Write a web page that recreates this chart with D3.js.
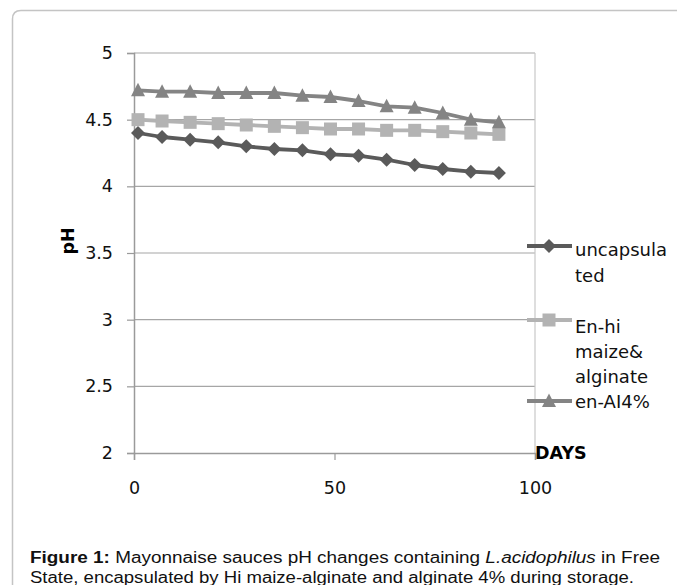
<!DOCTYPE html>
<html><head><meta charset="utf-8">
<script src="https://cdn.jsdelivr.net/npm/d3@7"></script>
<style>body{margin:0;background:#fff}svg{display:block}</style>
</head><body>
<svg id="c" width="677" height="585"></svg>
<script>
const days = [1, 7, 14, 21, 28, 35, 42, 49, 56, 63, 70, 77, 84, 91];
const uncapsulated = [4.40, 4.37, 4.35, 4.33, 4.30, 4.28, 4.27, 4.24, 4.23, 4.20, 4.16, 4.13, 4.11, 4.10];
const enHiMaize = [4.50, 4.49, 4.48, 4.47, 4.46, 4.45, 4.44, 4.43, 4.43, 4.42, 4.42, 4.41, 4.40, 4.39];
const enAl4 = [4.72, 4.71, 4.71, 4.70, 4.70, 4.70, 4.68, 4.67, 4.64, 4.60, 4.59, 4.55, 4.50, 4.48];
const yTicks = [2, 2.5, 3, 3.5, 4, 4.5, 5];
const xTicks = [0, 50, 100];
const seriesNames = [["uncapsula", "ted"], ["En-hi", "maize&", "alginate"], ["en-AI4%"]];

const svg = d3.select("#c");
const x = d3.scaleLinear().domain([0, 100]).range([134, 535]);
const y = d3.scaleLinear().domain([2, 5]).range([453, 53]);
const font = "'DejaVu Sans', Verdana, sans-serif";

// outer frame
svg.append("path")
  .attr("d", "M12.5,600 L12.5,19 Q12.5,10.5 21,10.5 L700,10.5")
  .attr("fill", "none").attr("stroke", "#c4c4c4").attr("stroke-width", 1.5);

// gridlines
svg.append("g").selectAll("line").data(yTicks.filter(d => d > 2)).join("line")
  .attr("x1", x(0)).attr("x2", x(100)).attr("y1", d => y(d)).attr("y2", d => y(d))
  .attr("stroke", "#a6a6a6").attr("stroke-width", 1.2);
svg.append("line").attr("x1", x(100)).attr("x2", x(100)).attr("y1", y(5)).attr("y2", y(2))
  .attr("stroke", "#c8c8c8").attr("stroke-width", 1.2);

// y axis
const yAxis = svg.append("g").attr("transform", `translate(${x(0)},0)`)
  .call(d3.axisLeft(y).tickValues(yTicks).tickSize(7).tickPadding(14).tickFormat(d3.format("")));
yAxis.select(".domain").attr("stroke", "#9a9a9a").attr("stroke-width", 1.5);
yAxis.selectAll(".tick line").attr("stroke", "#9a9a9a").attr("stroke-width", 1.2);
yAxis.selectAll("text").attr("font-family", font).attr("font-size", 17.5).attr("fill", "#111");

// x axis
const xAxis = svg.append("g").attr("transform", `translate(0,${y(2)})`)
  .call(d3.axisBottom(x).tickValues(xTicks).tickSize(7).tickPadding(22).tickFormat(d3.format("")));
xAxis.select(".domain").attr("stroke", "#9a9a9a").attr("stroke-width", 1.5);
xAxis.selectAll(".tick line").attr("stroke", "#9a9a9a").attr("stroke-width", 1.2);
xAxis.selectAll("text").attr("font-family", font).attr("font-size", 17.5).attr("fill", "#111");

// axis titles
svg.append("text").attr("transform", "translate(74,241) rotate(-90)").attr("text-anchor", "middle")
  .attr("font-family", font).attr("font-weight", "bold").attr("font-size", 17.5).text("pH");
svg.append("text").attr("x", 535).attr("y", 459)
  .attr("font-family", font).attr("font-weight", "bold").attr("font-size", 17.5).text("DAYS");

// series
const series = [
  {vals: uncapsulated, color: "#5a5a5a", shape: "diamond"},
  {vals: enHiMaize, color: "#b3b3b3", shape: "square"},
  {vals: enAl4, color: "#848484", shape: "triangle"}
];
function markerPath(shape) {
  if (shape === "diamond") return "M0,-7 L7,0 L0,7 L-7,0 Z";
  if (shape === "square") return "M-6.5,-6.5 H6.5 V6.5 H-6.5 Z";
  return "M0,-7.5 L7,6 L-7,6 Z";
}
const line = d3.line().x((d, i) => x(days[i])).y(d => y(d));
series.forEach(s => {
  const g = svg.append("g");
  g.append("path").attr("d", line(s.vals)).attr("fill", "none")
    .attr("stroke", s.color).attr("stroke-width", 3.8).attr("stroke-linejoin", "round");
  g.selectAll("path.m").data(s.vals).join("path").attr("class", "m")
    .attr("transform", (d, i) => `translate(${x(days[i])},${y(d)})`)
    .attr("d", markerPath(s.shape)).attr("fill", s.color);
});

// legend
const legY = [246, 320, 401];
const legTextY = [[256, 282], [333, 358, 383], [408]];
series.forEach((s, k) => {
  const g = svg.append("g");
  g.append("line").attr("x1", 527).attr("x2", 572).attr("y1", legY[k]).attr("y2", legY[k])
    .attr("stroke", s.color).attr("stroke-width", 3.8);
  g.append("path").attr("transform", `translate(549,${legY[k]})`).attr("d", markerPath(s.shape)).attr("fill", s.color);
  seriesNames[k].forEach((t, j) => {
    g.append("text").attr("x", 575).attr("y", legTextY[k][j]).attr("font-family", font)
      .attr("font-size", 18).attr("fill", "#111").text(t);
  });
});

// caption
const cap = svg.append("g").attr("font-family", "'Liberation Sans', Arial, sans-serif").attr("font-size", 16).attr("fill", "#111");
const l1 = cap.append("text").attr("x", 30).attr("y", 563).attr("textLength", 630).attr("lengthAdjust", "spacingAndGlyphs");
l1.append("tspan").attr("font-weight", "bold").text("Figure 1:");
l1.append("tspan").text(" Mayonnaise sauces pH changes containing ");
l1.append("tspan").attr("font-style", "italic").text("L.acidophilus");
l1.append("tspan").text(" in Free");
cap.append("text").attr("x", 30).attr("y", 583).attr("textLength", 604).attr("lengthAdjust", "spacingAndGlyphs")
  .text("State, encapsulated by Hi maize-alginate and alginate 4% during storage.");
</script>
</body></html>
